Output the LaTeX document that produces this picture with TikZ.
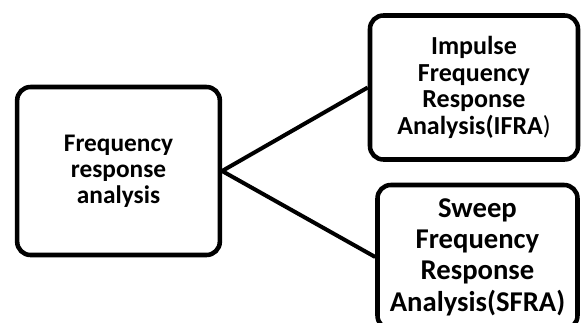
\documentclass[tikz,border=0pt]{standalone}
\usepackage{fontspec}
\setmainfont{Carlito}
\usepackage{tikz}
\usetikzlibrary{positioning}

\begin{document}
\begin{tikzpicture}[x=0.75pt,y=-0.75pt,
  box/.style={draw, line width=3.4pt, rounded corners=10pt, align=center,
    inner sep=0pt, font=\bfseries},
  link/.style={line width=3pt}]
  \useasboundingbox (0,0) rectangle (583,322);
  %--------------- Frequency response analysis ---------------
  \node[box, minimum width=152pt, minimum height=126pt,
    font=\bfseries\fontsize{19}{19.5}\selectfont] (fra) at (118.5,171)
    {Frequency\\response\\analysis};
  %--------------- IFRA ---------------
  \node[box, minimum width=156pt, minimum height=108pt,
    font=\bfseries\fontsize{19.5}{20}\selectfont] (ifra) at (474,87.5)
    {Impulse\\Frequency\\Response\\Analysis(IFRA{\mdseries )}};
  %--------------- SFRA ---------------
  \node[box, minimum width=150pt, minimum height=108pt,
    font=\bfseries\fontsize{21.5}{23.5}\selectfont] (sfra) at (477.5,257)
    {Sweep\\Frequency\\Response\\Analysis(SFRA)};
  %--------------- links ---------------
  \draw[link] (fra.east) -- (ifra.west);
  \draw[link] (fra.east) -- (sfra.west);
\end{tikzpicture}
\end{document}
